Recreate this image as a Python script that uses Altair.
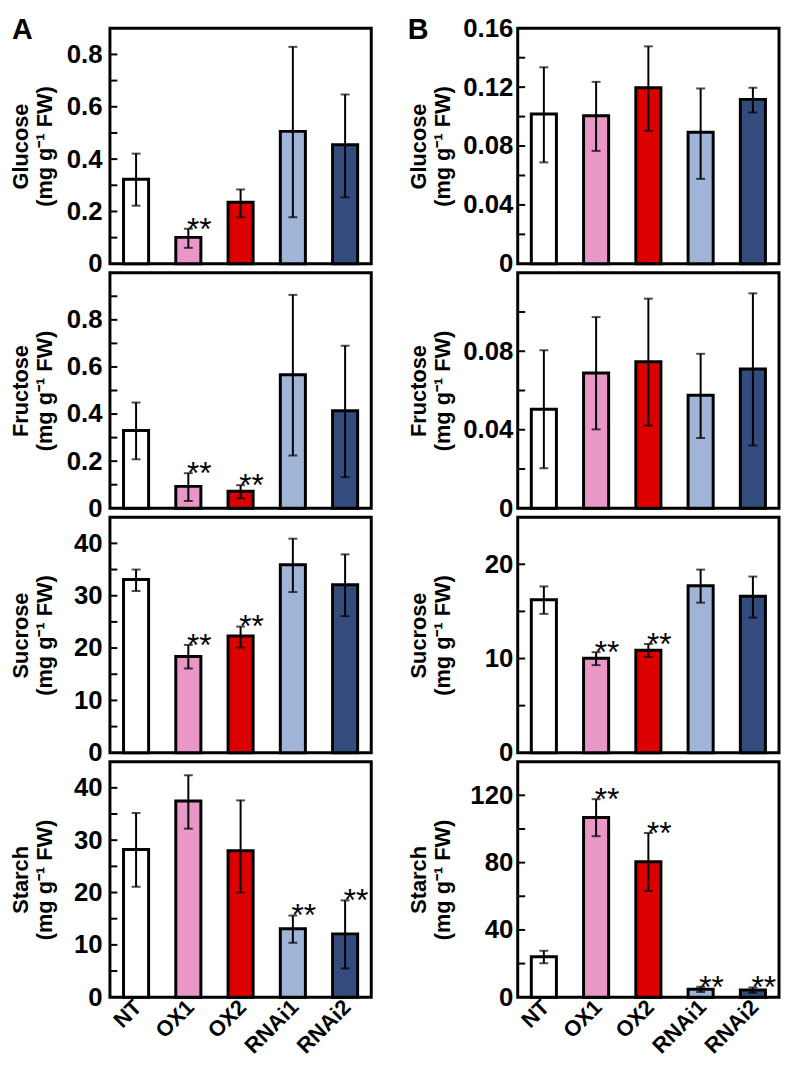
import altair as alt
import pandas as pd

categories = ["NT", "OX1", "OX2", "RNAi1", "RNAi2"]
colors = ["#FFFFFF", "#E897C6", "#DD0000", "#A0B4D8", "#344B7D"]

# ---- Panel A ----
a_glucose_mean = [0.323, 0.101, 0.235, 0.506, 0.455]
a_glucose_hi = [0.421, 0.134, 0.284, 0.829, 0.647]
a_glucose_lo = [0.222, 0.061, 0.178, 0.178, 0.254]
a_glucose_sig = ["", "**", "", "", ""]

a_fructose_mean = [0.330, 0.093, 0.072, 0.567, 0.414]
a_fructose_hi = [0.449, 0.149, 0.098, 0.906, 0.690]
a_fructose_lo = [0.208, 0.031, 0.042, 0.224, 0.132]
a_fructose_sig = ["", "**", "**", "", ""]

a_sucrose_mean = [33.1, 18.4, 22.3, 35.9, 32.1]
a_sucrose_hi = [35.0, 20.6, 24.1, 40.9, 37.9]
a_sucrose_lo = [30.9, 16.1, 20.1, 30.7, 26.1]
a_sucrose_sig = ["", "**", "**", "", ""]

a_starch_mean = [28.2, 37.5, 28.0, 13.1, 12.1]
a_starch_hi = [35.2, 42.4, 37.6, 15.6, 18.5]
a_starch_lo = [21.1, 32.2, 20.0, 10.4, 5.5]
a_starch_sig = ["", "", "", "**", "**"]

# ---- Panel B ----
b_glucose_mean = [0.1017, 0.1005, 0.1196, 0.0893, 0.1117]
b_glucose_hi = [0.1335, 0.1236, 0.1477, 0.1191, 0.1196]
b_glucose_lo = [0.0689, 0.0767, 0.0904, 0.0577, 0.1028]
b_glucose_sig = ["", "", "", "", ""]

b_fructose_mean = [0.0505, 0.0689, 0.0747, 0.0576, 0.0709]
b_fructose_hi = [0.0805, 0.0974, 0.1068, 0.0787, 0.1095]
b_fructose_lo = [0.0204, 0.0402, 0.0421, 0.0358, 0.0320]
b_fructose_sig = ["", "", "", "", ""]

b_sucrose_mean = [16.25, 10.04, 10.88, 17.72, 16.6]
b_sucrose_hi = [17.65, 10.67, 11.54, 19.44, 18.7]
b_sucrose_lo = [14.74, 9.30, 10.18, 15.93, 14.35]
b_sucrose_sig = ["", "**", "**", "", ""]

b_starch_mean = [24.1, 106.8, 80.5, 4.7, 4.3]
b_starch_hi = [27.6, 117.7, 97.6, 6.2, 5.8]
b_starch_lo = [20.2, 95.7, 63.2, 3.1, 2.7]
b_starch_sig = ["", "**", "**", "**", "**"]

# axis ranges / tick values
a_glucose_max = 0.9
a_fructose_max = 1.0
a_frac_labels = [0, 0.2, 0.4, 0.6, 0.8]
a_glucose_ticks = [0.1, 0.2, 0.3, 0.4, 0.5, 0.6, 0.7, 0.8]
a_fructose_ticks = [0.1, 0.2, 0.3, 0.4, 0.5, 0.6, 0.7, 0.8, 0.9]
a_big_max = 45
a_big_labels = [0, 10, 20, 30, 40]
a_big_ticks = [5, 10, 15, 20, 25, 30, 35, 40]

b_glucose_max = 0.16
b_glucose_labels = [0, 0.04, 0.08, 0.12, 0.16]
b_glucose_ticks = [0.02, 0.04, 0.06, 0.08, 0.10, 0.12, 0.14]
b_fructose_max = 0.12
b_fructose_labels = [0, 0.04, 0.08]
b_fructose_ticks = [0.02, 0.04, 0.06, 0.08, 0.10]
b_sucrose_max = 25
b_sucrose_labels = [0, 10, 20]
b_sucrose_ticks = [5, 10, 15, 20]
b_starch_max = 140
b_starch_labels = [0, 40, 80, 120]
b_starch_ticks = [20, 40, 60, 80, 100, 120]

FONT = "Liberation Sans"
W, H = 264, 238


def panel(name, mean, hi, lo, sig, ymax, label_vals, tick_vals, fmt,
          title_x, label_pad, bottom=False, letter=None, letter_x=-100):
    df = pd.DataFrame({"cat": categories, "mean": mean, "hi": hi, "lo": lo, "sig": sig})
    if bottom:
        xaxis = alt.Axis(title=None, labelAngle=-45, labelAlign="right",
                         labelBaseline="middle", labelFontSize=22, labelPadding=6,
                         labelOffset=2, ticks=False, domain=False)
    else:
        xaxis = None
    xscale = alt.Scale(domain=categories, paddingInner=0.52, paddingOuter=0.26)
    x = alt.X("cat:N", sort=categories, scale=xscale, axis=xaxis)
    yscale = alt.Scale(domain=[0, ymax], nice=False, zero=True)
    yaxis = alt.Axis(values=label_vals, format=fmt,
                     title=[name, "(mg g\u207b\u00b9 FW)"],
                     titleX=title_x, titleBaseline="middle", titleLineHeight=24,
                     labelPadding=label_pad)
    base = alt.Chart(df)
    bars = base.mark_bar(stroke="black", strokeWidth=3).encode(
        x=x,
        y=alt.Y("mean:Q", scale=yscale, axis=yaxis),
        color=alt.Color("cat:N", scale=alt.Scale(domain=categories, range=colors), legend=None),
    )
    err = base.mark_rule(color="black", strokeWidth=2).encode(
        x=x, y=alt.Y("lo:Q", scale=yscale), y2="hi:Q")
    cap_hi = base.mark_tick(color="black", size=9, thickness=2).encode(
        x=x, y=alt.Y("hi:Q", scale=yscale))
    cap_lo = base.mark_tick(color="black", size=9, thickness=2).encode(
        x=x, y=alt.Y("lo:Q", scale=yscale))
    stars = base.mark_text(font=FONT, fontSize=32, dx=11, dy=11,
                           baseline="alphabetic", color="black").encode(
        x=x, y=alt.Y("hi:Q", scale=yscale), text="sig:N")
    tdf = pd.DataFrame({"v": tick_vals})
    ticks = alt.Chart(tdf).mark_rule(color="black", strokeWidth=2).encode(
        y=alt.Y("v:Q", scale=yscale), x=alt.value(0), x2=alt.value(7.5))
    layers = [bars, err, cap_hi, cap_lo, stars, ticks]
    if letter:
        ldf = pd.DataFrame({"t": [letter]})
        lt = alt.Chart(ldf).mark_text(font=FONT, fontSize=29, fontWeight="bold",
                                      align="left", baseline="top",
                                      color="black").encode(
            x=alt.value(letter_x), y=alt.value(-12), text="t:N")
        layers.append(lt)
    return alt.layer(*layers).properties(width=W, height=H)


TA, PA = -90, 8
TB, PB = -100, 5

panels = [
    panel("Glucose", a_glucose_mean, a_glucose_hi, a_glucose_lo, a_glucose_sig,
          a_glucose_max, a_frac_labels, a_glucose_ticks, ".1~f", TA, PA,
          letter="A", letter_x=-99),
    panel("Glucose", b_glucose_mean, b_glucose_hi, b_glucose_lo, b_glucose_sig,
          b_glucose_max, b_glucose_labels, b_glucose_ticks, ".2~f", TB, PB,
          letter="B", letter_x=-111),
    panel("Fructose", a_fructose_mean, a_fructose_hi, a_fructose_lo, a_fructose_sig,
          a_fructose_max, a_frac_labels, a_fructose_ticks, ".1~f", TA, PA),
    panel("Fructose", b_fructose_mean, b_fructose_hi, b_fructose_lo, b_fructose_sig,
          b_fructose_max, b_fructose_labels, b_fructose_ticks, ".2~f", TB, PB),
    panel("Sucrose", a_sucrose_mean, a_sucrose_hi, a_sucrose_lo, a_sucrose_sig,
          a_big_max, a_big_labels, a_big_ticks, "d", TA, PA),
    panel("Sucrose", b_sucrose_mean, b_sucrose_hi, b_sucrose_lo, b_sucrose_sig,
          b_sucrose_max, b_sucrose_labels, b_sucrose_ticks, "d", TB, PB),
    panel("Starch", a_starch_mean, a_starch_hi, a_starch_lo, a_starch_sig,
          a_big_max, a_big_labels, a_big_ticks, "d", TA, PA, bottom=True),
    panel("Starch", b_starch_mean, b_starch_hi, b_starch_lo, b_starch_sig,
          b_starch_max, b_starch_labels, b_starch_ticks, "d", TB, PB, bottom=True),
]

chart = alt.concat(*panels, columns=2, bounds="flush",
                   spacing={"row": 9, "column": 148}).properties(
    padding={"left": 0, "top": 0, "right": 0, "bottom": 0}
).resolve_scale(
    y="independent"
).configure_view(
    stroke="black", strokeWidth=3
).configure_axis(
    labelFont=FONT, labelFontWeight="bold", labelFontSize=26, labelColor="black",
    titleFont=FONT, titleFontWeight="bold", titleFontSize=22, titleColor="black",
    domain=False, ticks=False, grid=False,
)

chart.save("out.html", embed_options={"renderer": "svg", "actions": False})
